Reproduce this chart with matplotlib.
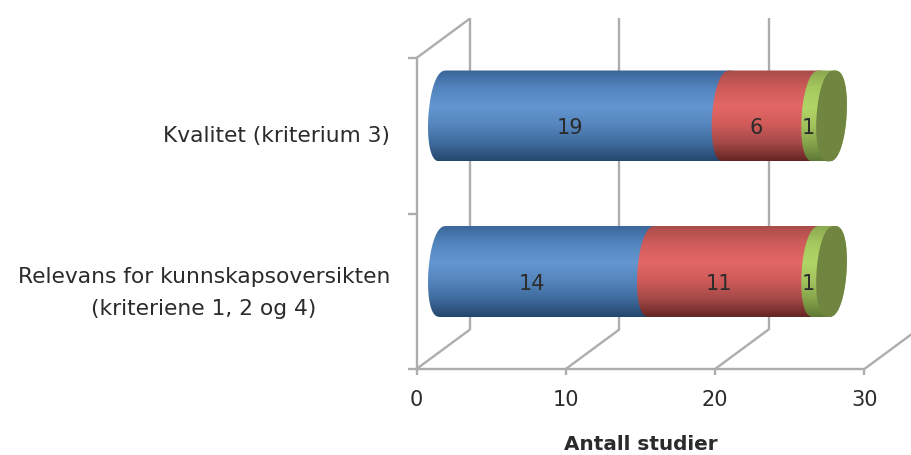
import numpy as np
import matplotlib
matplotlib.use('Agg')
import matplotlib.pyplot as plt
from matplotlib.colors import LinearSegmentedColormap
from matplotlib.patches import PathPatch
from matplotlib.path import Path

categories = ['Relevans for kunnskapsoversikten\n(kriteriene 1, 2 og 4)', 'Kvalitet (kriterium 3)']
blue_values = [14, 19]
red_values = [11, 6]
green_values = [1, 1]
x_ticks = [0, 10, 20, 30]
x_title = 'Antall studier'

# top to bottom shading of each cylinder, light comes from just above the middle
blue_shades = ['#3a6598', '#5385bf', '#6496d0', '#5586bd', '#3f6c9f', '#25476e']
red_shades = ['#a84c4a', '#cf5c5a', '#e36866', '#cf5b59', '#a54a48', '#662523']
green_shades = ['#8aa850', '#a6c95f', '#b2d567', '#a3c45d', '#87a54c', '#5f7a35']
cap_color = '#6f8540'
grid_color = '#adadad'
text_color = '#2b2b2b'

plt.rcParams['font.family'] = 'DejaVu Sans'

# one x unit is 14.93 px, one category step is 155.5 px
fig = plt.figure(figsize=(9.11, 4.55), dpi=100)
ax = fig.add_axes([0, 0, 1, 1])
x_unit = 14.93
y_unit = 155.5
xlim = (-416.5 / x_unit, (911 - 416.5) / x_unit)
ylim = (-0.5 - (455 - 369) / y_unit, -0.5 + 369 / y_unit)
depth_x = 53.5 / x_unit
depth_y = 39.5 / y_unit
bar_half = 45.5 / y_unit
cap_a = 15 / x_unit
lean = (3 / x_unit) / bar_half


def arc(x, yc, start, stop):
    # slightly squared ellipse, leaning to the right at the top
    t = np.linspace(start, stop, 60)
    ys = bar_half * np.sin(t)
    c = np.cos(t)
    return x + cap_a * np.sign(c) * np.abs(c) ** 0.8 + lean * ys, yc + ys


def draw_segment(left, right, yc, shades):
    # left end bulges over the previous segment, right end is the far rim
    lx, ly = arc(left, yc, np.pi / 2, 3 * np.pi / 2)
    rx, ry = arc(right, yc, -np.pi / 2, np.pi / 2)
    verts = np.column_stack([np.r_[lx, rx], np.r_[ly, ry]])
    clip = PathPatch(Path(np.vstack([verts, verts[0]]), closed=True), fc='none', ec='none', transform=ax.transData)
    ax.add_patch(clip)
    cmap = LinearSegmentedColormap.from_list('shade', shades)
    grad = np.linspace(0, 1, 128).reshape(-1, 1)
    im = ax.imshow(grad, cmap=cmap, aspect='auto', origin='upper', zorder=3,
                   extent=(left - cap_a - 1, right + cap_a + 1, yc - bar_half, yc + bar_half))
    im.set_clip_path(clip)


def grid_line(xs, ys):
    ax.plot(xs, ys, color=grid_color, lw=1.7, solid_capstyle='butt', zorder=1)


bottom = -0.5
top = len(categories) - 0.5

# walls and floor
for v in x_ticks:
    grid_line([v, v + depth_x], [bottom, bottom + depth_y])
    grid_line([v, v], [bottom, bottom - 6 / y_unit])
    if v < x_ticks[-1]:
        grid_line([v + depth_x, v + depth_x], [bottom + depth_y, top + depth_y])
grid_line([x_ticks[0], x_ticks[-1]], [bottom, bottom])
grid_line([0, 0], [bottom, top])
grid_line([0, depth_x], [top, top + depth_y])
for t in np.arange(bottom, top + 0.5):
    grid_line([-9 / x_unit, 0], [t, t])

# cylinders
x0 = 1.8
label_shift = 0.75
for i in range(len(categories)):
    yc = i + depth_y / 2
    start = 0
    for vals, shades in ((blue_values, blue_shades), (red_values, red_shades), (green_values, green_shades)):
        end = start + vals[i]
        draw_segment(x0 + start, x0 + end, yc, shades)
        ax.text(label_shift + (start + end) / 2, yc - 12 / y_unit, str(vals[i]), ha='center', va='center',
                fontsize=15, color=text_color, zorder=5)
        start = end
    cx, cy = arc(x0 + start, yc, 0, 2 * np.pi)
    ax.fill(cx, cy, color=cap_color, lw=0, zorder=4)

# category labels, aligned on the right against the axis
ax.text(390 / x_unit + xlim[0], 1.0, categories[1], ha='right', va='center', fontsize=15.7,
        color=text_color, linespacing=1.5)
ax.text(390 / x_unit + xlim[0], 0.0 - 0.01, categories[0], ha='right', va='center', multialignment='center',
        fontsize=15.7, color=text_color, linespacing=1.75)

for v in x_ticks:
    ax.text(v, bottom - 31 / y_unit, str(v), ha='center', va='center', fontsize=15, color=text_color)
ax.text(15 + 0, bottom - 76 / y_unit, x_title, ha='center', va='center', fontsize=14.4,
        fontweight='bold', color=text_color)

ax.set_xlim(xlim)
ax.set_ylim(ylim)
ax.axis('off')

fig.savefig('out.png', dpi=100)
